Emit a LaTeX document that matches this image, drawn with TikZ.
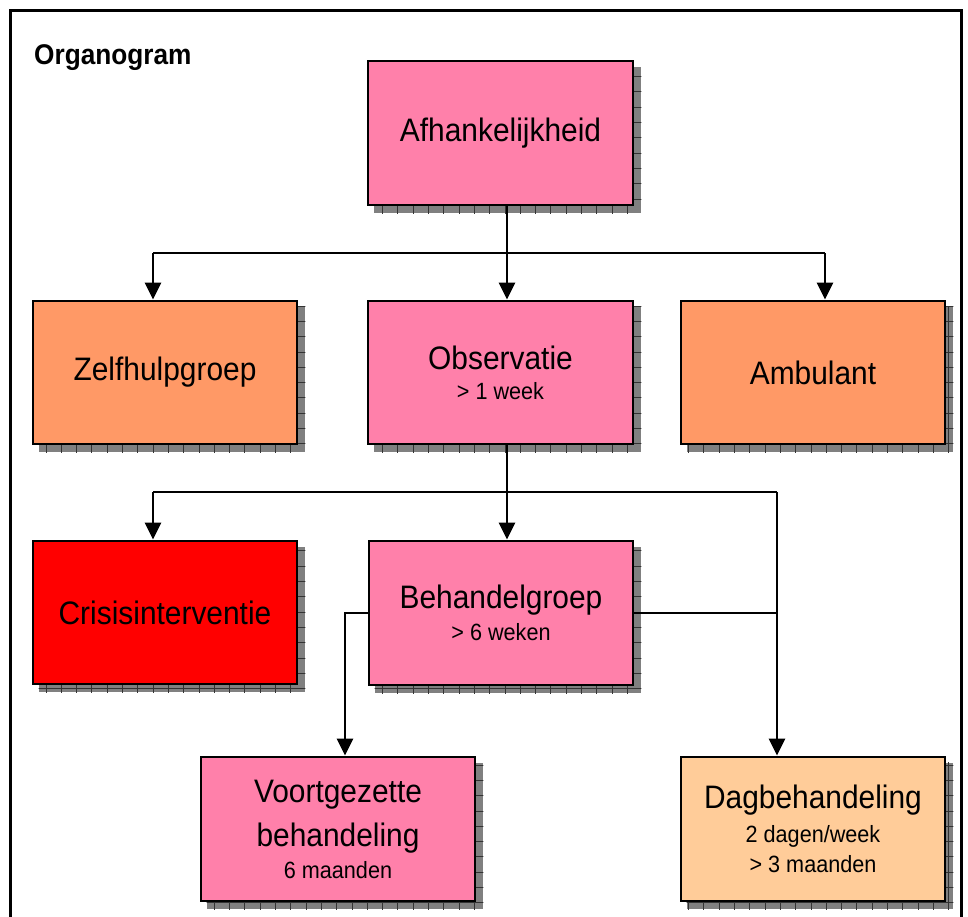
\documentclass[tikz,border=0pt]{standalone}
\usepackage{fontspec}
\setmainfont{Liberation Sans}[FakeStretch=0.92]
\usetikzlibrary{arrows.meta,backgrounds}
\definecolor{pinkbox}{RGB}{255,128,170}
\definecolor{orangebox}{RGB}{255,153,102}
\definecolor{redbox}{RGB}{255,0,0}
\definecolor{peachbox}{RGB}{255,204,153}
\definecolor{shadowgray}{RGB}{128,128,128}
\newcommand{\subf}{\fontsize{23.5}{28}\selectfont}
\begin{document}
\begin{tikzpicture}[x=1pt,y=-1pt,
  box/.style={draw=black, line width=2.8pt, minimum width=264pt, minimum height=143pt,
    inner sep=0pt, align=center, font=\fontsize{32.5}{38}\selectfont},
  link/.style={line width=2.6pt},
  arr/.style={link, -{Triangle[length=17pt,width=16pt]}}]
\useasboundingbox (0,0) rectangle (968,917);
\clip (0,0) rectangle (968,917);
% frame
\draw[line width=3pt] (10,930) -- (10,11) -- (961,11) -- (961,930);
% title
\node[anchor=base west, font=\bfseries\fontsize{28.5}{34}\selectfont, inner sep=0pt] (title) at (34,65) {Organogram};
% boxes
\node[box, fill=pinkbox, minimum width=265pt, minimum height=144pt] (afh) at (500.5,133) {Afhankelijkheid};
\node[box, fill=orangebox] (zelf) at (165,372.5) {Zelfhulpgroep};
\node[box, fill=pinkbox, minimum width=265pt] (obs) at (500.5,372.5) {Observatie\\[-8pt]{\subf > 1 week}};
\node[box, fill=orangebox] (amb) at (813,372.5) {Ambulant};
\node[box, fill=redbox] (cris) at (165,612.5) {Crisisinterventie};
\node[box, fill=pinkbox, minimum height=144pt] (beh) at (501,613) {Behandelgroep\\[-6pt]{\subf > 6 weken}};
\node[box, fill=pinkbox, minimum width=274pt, minimum height=144pt] (voort) at (338,829) {\raisebox{4pt}{Voortgezette}\\[2pt]behandeling\\[-6pt]{\subf 6 maanden}};
\node[box, fill=peachbox, minimum height=144pt] (dag) at (813,829) {\raisebox{0pt}[\height][0pt]{Dagbehandeling}\\[-4pt]{\subf 2 dagen/week}\\[-8pt]{\subf > 3 maanden}};
% shadows
\begin{scope}[on background layer]
\foreach \n in {afh,zelf,obs,amb,cris,beh,voort,dag}{
  \begin{scope}
    \clip ([shift={(7,7)}]\n.north west) rectangle ([shift={(7,7)}]\n.south east);
    \fill[shadowgray] ([shift={(7,7)}]\n.north west) rectangle ([shift={(7,7)}]\n.south east);
    \draw[black!80, line width=0.7pt, step=15.3pt] (0,917) grid (968,0);
  \end{scope}
}
\end{scope}
% connector junctions
\coordinate (h1L) at (153,253);
\coordinate (h1M) at (507,253);
\coordinate (h1R) at (825,253);
\coordinate (h2L) at (153,492);
\coordinate (h2M) at (507,492);
\coordinate (h2R) at (777,492);
\coordinate (h3L) at (345,613);
\coordinate (h3R) at (777,613);
% level 1
\draw[link] (afh.south -| h1M) -- (h1M);
\draw[link] (h1L) -- (h1R);
\draw[arr] (h1L) -- (zelf.north -| h1L);
\draw[arr] (h1M) -- (obs.north -| h1M);
\draw[arr] (h1R) -- (amb.north -| h1R);
% level 2
\draw[link] (obs.south -| h2M) -- (h2M);
\draw[link] (h2L) -- (h2R);
\draw[arr] (h2L) -- (cris.north -| h2L);
\draw[arr] (h2M) -- (beh.north -| h2M);
\draw[arr] (h2R) -- (dag.north -| h2R);
% level 3
\draw[link] (beh.east |- h3R) -- (h3R);
\draw[arr] (beh.west |- h3L) -- (h3L) -- (voort.north -| h3L);
\end{tikzpicture}
\end{document}
